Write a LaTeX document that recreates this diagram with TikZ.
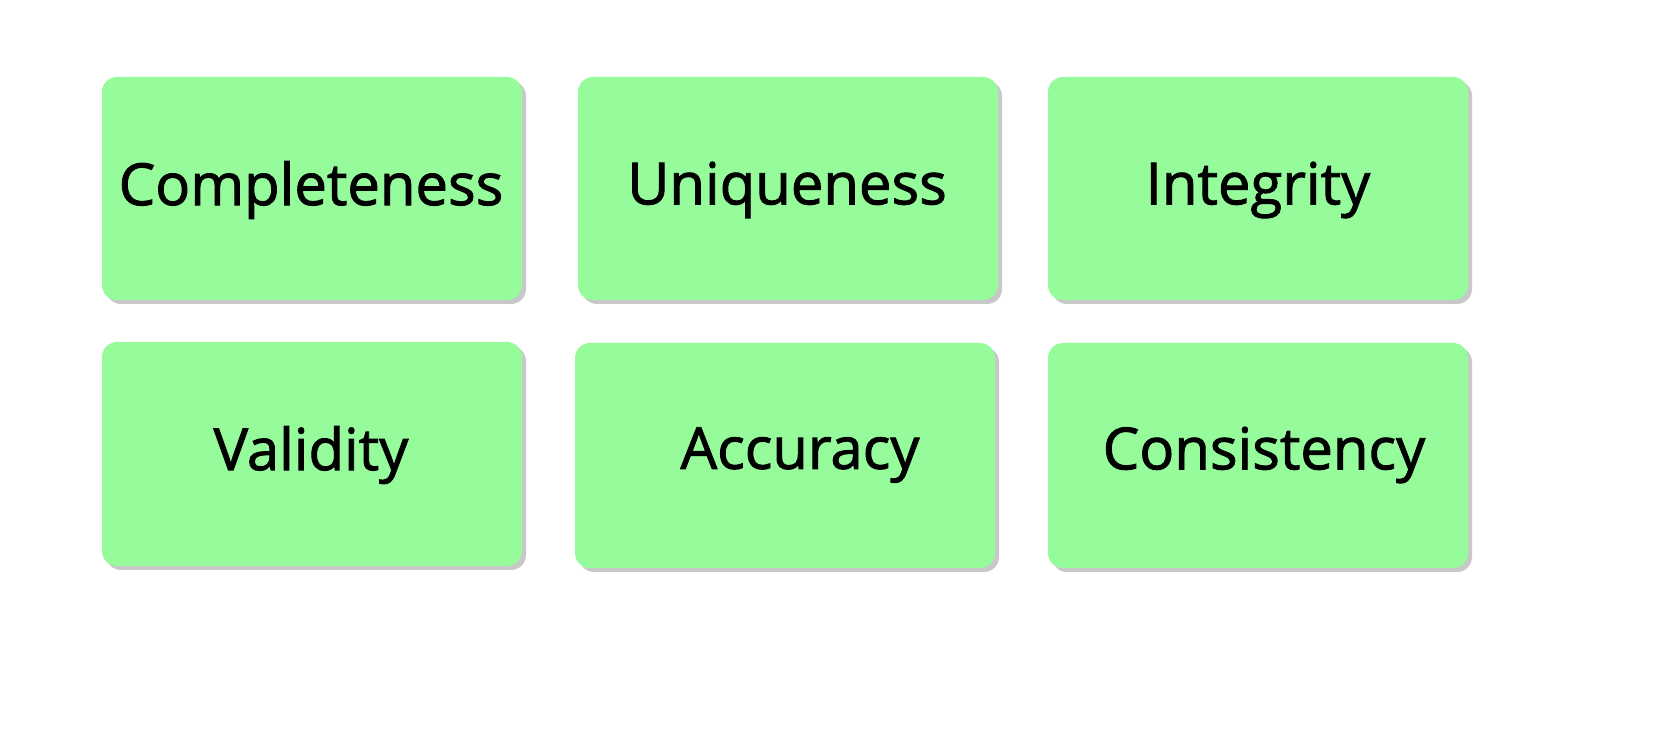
\documentclass[tikz,border=0pt]{standalone}
\usepackage{fontspec}
\setmainfont{Open Sans}
\definecolor{boxgreen}{HTML}{95FB9B}
\definecolor{shadowgray}{HTML}{C8C8C8}
\begin{document}
\begin{tikzpicture}[x=0.02cm,y=-0.02cm,
  qbox/.style={fill=boxgreen,draw=none,rounded corners=0.3cm},
  qshadow/.style={fill=shadowgray,draw=none,rounded corners=0.3cm},
  lbl/.style={font=\fontsize{33}{38}\selectfont\addfontfeatures{FakeBold=1.6},text=black}]
\useasboundingbox (0,0) rectangle (1678,746);
\foreach \xa/\ya/\xb/\yb in {102/77/522/300, 578/77/998/300, 1048/77/1468/300,
  102/342/522/566, 575/343/995/568, 1048/343/1468/568}{
  \fill[qshadow] (\xa+4,\ya+4) rectangle (\xb+4,\yb+4);
  \fill[qbox] (\xa,\ya) rectangle (\xb,\yb);
}
\node[lbl] (t1) at (311,190) {Completeness};
\node[lbl] (t2) at (787,190) {Uniqueness};
\node[lbl] (t3) at (1258,190) {Integrity};
\node[lbl] (t4) at (311,455) {Validity};
\node[lbl] (t5) at (800,455) {Accuracy};
\node[lbl] (t6) at (1264,455) {Consistency};
\end{tikzpicture}
\end{document}
